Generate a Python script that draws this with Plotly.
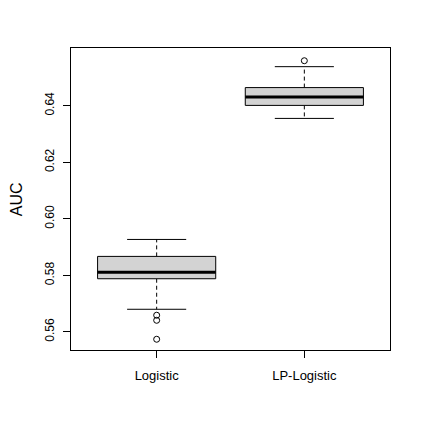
import plotly.graph_objects as go

# Boxplot statistics (AUC)
models = ["Logistic", "LP-Logistic"]
lower_whisker = [0.5680, 0.6355]
q1 = [0.5788, 0.6401]
median = [0.5811, 0.6431]
q3 = [0.5867, 0.6464]
upper_whisker = [0.5927, 0.6538]
outliers = [[0.5659, 0.5641, 0.5574], [0.6559]]

BOX_HALF = 0.4
CAP_HALF = 0.2
FONT = "Liberation Sans, Arial, sans-serif"

fig = go.Figure()

for i, name in enumerate(models):
    c = i + 1
    # whiskers (dashed)
    fig.add_trace(go.Scatter(x=[c, c], y=[q3[i], upper_whisker[i]], mode="lines",
                             line=dict(color="black", width=1, dash="4px,3px"), hoverinfo="skip"))
    fig.add_trace(go.Scatter(x=[c, c], y=[q1[i], lower_whisker[i]], mode="lines",
                             line=dict(color="black", width=1, dash="4px,3px"), hoverinfo="skip"))
    # staples
    for v in (upper_whisker[i], lower_whisker[i]):
        fig.add_trace(go.Scatter(x=[c - CAP_HALF, c + CAP_HALF], y=[v, v], mode="lines",
                                 line=dict(color="black", width=1), hoverinfo="skip"))
    # box
    fig.add_trace(go.Scatter(x=[c - BOX_HALF, c + BOX_HALF, c + BOX_HALF, c - BOX_HALF, c - BOX_HALF],
                             y=[q1[i], q1[i], q3[i], q3[i], q1[i]], mode="lines", fill="toself",
                             fillcolor="#d3d3d3", line=dict(color="black", width=1), name=name))
    # median
    fig.add_trace(go.Scatter(x=[c - BOX_HALF, c + BOX_HALF], y=[median[i], median[i]], mode="lines",
                             line=dict(color="black", width=3), hoverinfo="skip"))
    # outliers
    fig.add_trace(go.Scatter(x=[c] * len(outliers[i]), y=outliers[i], mode="markers",
                             marker=dict(symbol="circle-open", size=6, color="black",
                                         line=dict(width=1))))

# the page body adds an 8px margin, so the figure is 8px smaller and margins shifted
fig.update_layout(
    width=415, height=414,
    margin=dict(l=63, r=33, t=40, b=72),
    paper_bgcolor="white", plot_bgcolor="white",
    showlegend=False,
    font=dict(family=FONT, size=13, color="black"),
    xaxis=dict(range=[0.42, 2.58], tickvals=[1, 2], ticktext=models,
               showgrid=False, zeroline=False, showline=True, mirror=True,
               linecolor="black", linewidth=1, ticks="outside", ticklen=7,
               tickcolor="black", ticklabelstandoff=6),
    yaxis=dict(range=[0.5536, 0.6604], tickvals=[0.56, 0.58, 0.60, 0.62, 0.64],
               ticktext=["0.56", "0.58", "0.60", "0.62", "0.64"], tickangle=-90,
               showgrid=False, zeroline=False, showline=True, mirror=True,
               linecolor="black", linewidth=1, ticks="outside", ticklen=7,
               tickcolor="black", tickfont=dict(size=12), ticklabelstandoff=4),
    annotations=[dict(text="AUC", xref="paper", yref="paper", x=-0.172, y=0.5,
                      xanchor="center", yanchor="middle", textangle=-90,
                      showarrow=False, font=dict(size=16))],
)

fig.write_html("out.html")
